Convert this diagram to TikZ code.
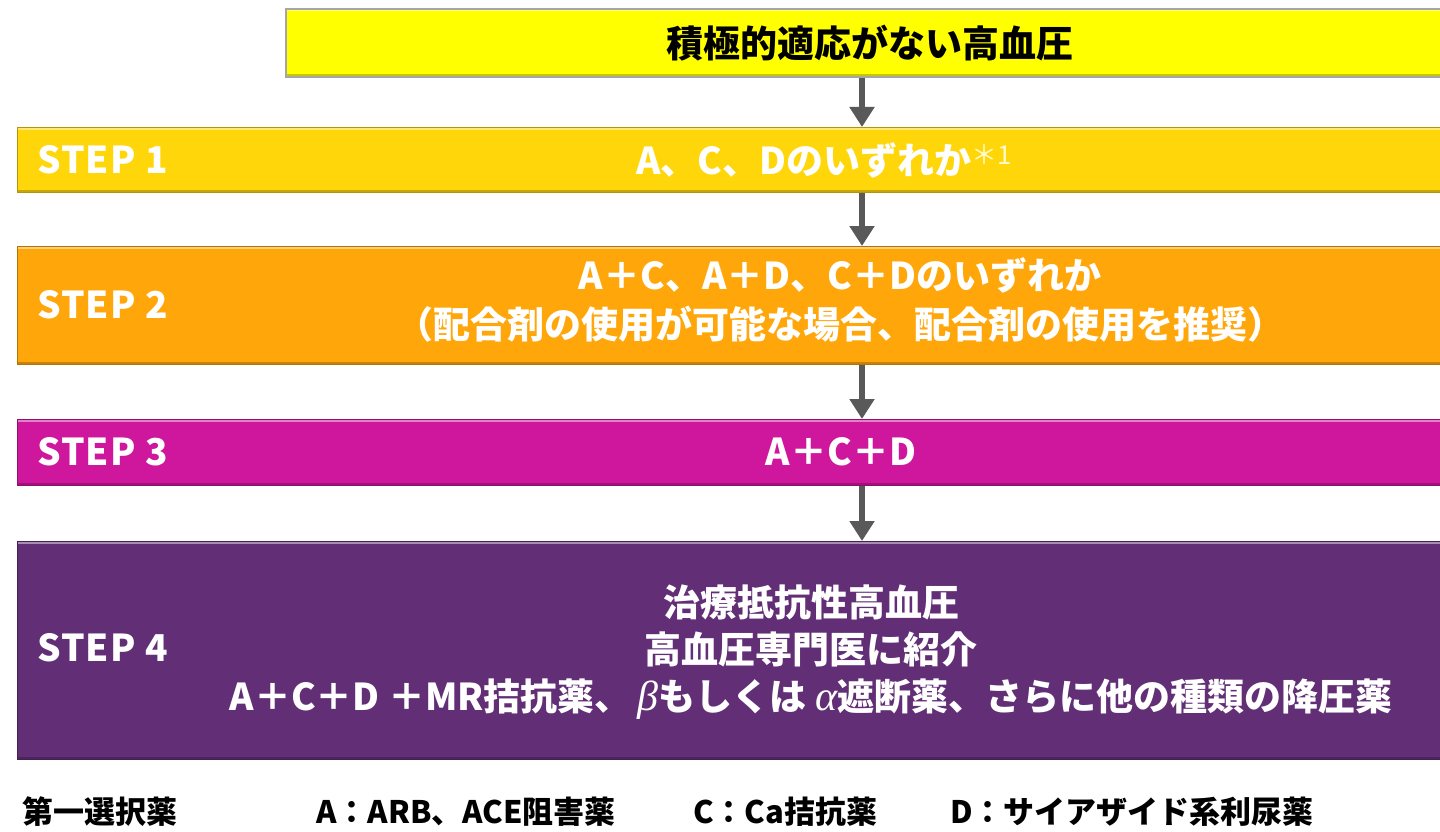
\documentclass[tikz,border=0pt]{standalone}
\usepackage{fontspec}
\setmainfont{Noto Sans CJK JP}
\newfontfamily\grk{Liberation Serif}
\usetikzlibrary{arrows.meta}
\definecolor{cTop}{HTML}{FFFF00}
\definecolor{cS1}{HTML}{FFD60A}
\definecolor{cS2}{HTML}{FFA70A}
\definecolor{cS3}{HTML}{CE179C}
\definecolor{cS4}{HTML}{622F76}
\definecolor{cArr}{HTML}{595959}
\newcommand\gk[1]{{\grk\itshape\mdseries\fontsize{42}{46}\selectfont #1}}
\tikzset{
  box/.style={draw=#1!70!black, line width=1.2pt, fill=#1, anchor=north west, inner sep=0pt,
    path picture={
      \draw[white, opacity=.45, line width=5pt] (path picture bounding box.north west) -- (path picture bounding box.north east);
      \draw[black, opacity=.22, line width=5pt] (path picture bounding box.south west) -- (path picture bounding box.south east);
    }},
  arr/.style={draw=cArr, line width=6pt, -{Triangle[width=24pt,length=20pt]}, color=cArr},
  lbl/.style={text=white, font=\fontsize{37}{40}\selectfont\bfseries\addfontfeature{LetterSpace=3}, inner sep=0pt},
  txt/.style={text=white, font=\fontsize{37}{49}\selectfont\bfseries, inner sep=0pt, align=center},
  leg/.style={text=black, font=\fontsize{31}{36}\selectfont\bfseries, inner sep=0pt, anchor=west}
}
\begin{document}
\begin{tikzpicture}[x=1pt,y=-1pt]
\useasboundingbox[fill=white] (0,0) rectangle (1440,832);
\node[box=cTop, draw=gray!70, line width=2pt, minimum width=1180pt, minimum height=68pt] (top) at (285,8) {};
\node[box=cS1, minimum width=1443pt, minimum height=65pt] (s1) at (17,127) {};
\node[box=cS2, minimum width=1443pt, minimum height=118pt] (s2) at (17,246) {};
\node[box=cS3, minimum width=1443pt, minimum height=66pt] (s3) at (17,419) {};
\node[box=cS4, minimum width=1443pt, minimum height=218pt] (s4) at (17,541) {};
\coordinate (ax) at (862,0);
\draw[arr] (top.south -| ax) -- (s1.north -| ax);
\draw[arr] (s1.south -| ax) -- (s2.north -| ax);
\draw[arr] (s2.south -| ax) -- (s3.north -| ax);
\draw[arr] (s3.south -| ax) -- (s4.north -| ax);
% texts
\node[txt, text=black] (ttop) at (870,43) {積極的適応がない高血圧};
\node[lbl, anchor=west] (l1) at (37,160) {STEP 1};
\node[lbl, anchor=west] (l2) at (37,305) {STEP 2};
\node[lbl, anchor=west] (l3) at (37,452) {STEP 3};
\node[lbl, anchor=west] (l4) at (37,648) {STEP 4};
\node[txt, anchor=west] (t1) at (636,160) {A、C、Dのいずれか{\color{white!80!yellow}\fontsize{26}{26}\selectfont\mdseries\raisebox{10pt}{＊1}}};
\node[txt] (t2) at (840,300) {A＋C、A＋D、C＋Dのいずれか\\（配合剤の使用が可能な場合、配合剤の使用を推奨）};
\node[txt] (t3) at (841,452) {A＋C＋D};
\node[txt, font=\fontsize{37}{47}\selectfont\bfseries] (t4) at (811,652) {治療抵抗性高血圧\\高血圧専門医に紹介\\A＋C＋D ＋MR拮抗薬、\,\gk{β}もしくは \gk{α}遮断薬、さらに他の種類の降圧薬};
% legend
\node[leg] (g0) at (22,812) {第一選択薬};
\node[leg] (g1) at (316,812) {A：ARB、ACE阻害薬};
\node[leg] (g2) at (693,812) {C：Ca拮抗薬};
\node[leg] (g3) at (950,812) {D：サイアザイド系利尿薬};
\end{tikzpicture}
\end{document}
